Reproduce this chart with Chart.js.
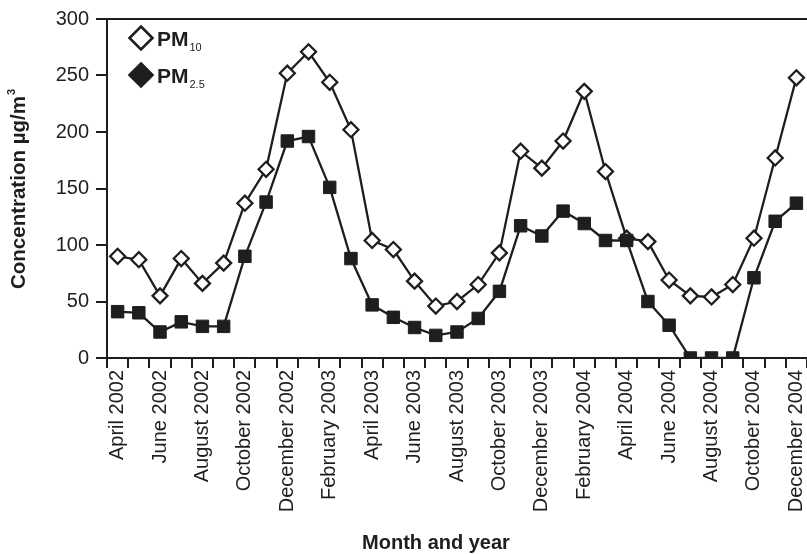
<!DOCTYPE html>
<html>
<head>
<meta charset="utf-8">
<script src="https://cdn.jsdelivr.net/npm/chart.js@4/dist/chart.umd.min.js"></script>
<style>
  html, body { margin: 0; padding: 0; background: #fff; }
  #wrap { width: 807px; height: 554px; }
</style>
</head>
<body>
<div id="wrap"><canvas id="chart"></canvas></div>
<script>
// Monthly mean concentrations, April 2002 - December 2004
const months = [
    'April 2002', 'May 2002', 'June 2002', 'July 2002', 'August 2002', 'September 2002',
    'October 2002', 'November 2002', 'December 2002', 'January 2003', 'February 2003', 'March 2003',
    'April 2003', 'May 2003', 'June 2003', 'July 2003', 'August 2003', 'September 2003',
    'October 2003', 'November 2003', 'December 2003', 'January 2004', 'February 2004', 'March 2004',
    'April 2004', 'May 2004', 'June 2004', 'July 2004', 'August 2004', 'September 2004',
    'October 2004', 'November 2004', 'December 2004'
];
const pm10 = [90, 87, 55, 88, 66, 84, 137, 167, 252, 271, 244, 202, 104, 96, 68, 46, 50,
    65, 93, 183, 168, 192, 236, 165, 106, 103, 69, 55, 54, 65, 106, 177, 248];
const pm25 = [41, 40, 23, 32, 28, 28, 90, 138, 192, 196, 151, 88, 47, 36, 27, 20, 23,
    35, 59, 117, 108, 130, 119, 104, 104, 50, 29, 0, 0, 0, 71, 121, 137];
const yTicks = [0, 50, 100, 150, 200, 250, 300];

const INK = '#1e1e1e';
const FONT = '"Liberation Sans", Arial, sans-serif';
Chart.defaults.font.family = FONT;
Chart.defaults.color = INK;

// top frame line, legend with subscripts, axis titles
const decorations = {
    id: 'decorations',
    afterDraw(chart) {
        const { ctx, chartArea: a } = chart;
        ctx.save();

        ctx.strokeStyle = INK;
        ctx.lineWidth = 2;
        ctx.beginPath();
        ctx.moveTo(a.left, a.top);
        ctx.lineTo(a.right, a.top);
        ctx.stroke();

        // legend
        const lx = a.left + 34;
        const diamond = (cx, cy, r, filled) => {
            ctx.beginPath();
            ctx.moveTo(cx, cy - r);
            ctx.lineTo(cx + r, cy);
            ctx.lineTo(cx, cy + r);
            ctx.lineTo(cx - r, cy);
            ctx.closePath();
            ctx.fillStyle = filled ? INK : '#fff';
            ctx.fill();
            ctx.lineWidth = 2.6;
            ctx.strokeStyle = INK;
            ctx.stroke();
        };
        const entry = (cy, sub, filled) => {
            diamond(lx, cy, 11.5, filled);
            ctx.fillStyle = INK;
            ctx.textAlign = 'left';
            ctx.textBaseline = 'alphabetic';
            ctx.font = 'bold 21px ' + FONT;
            ctx.fillText('PM', lx + 16, cy + 7.5);
            const w = ctx.measureText('PM').width;
            ctx.font = '11px ' + FONT;
            ctx.fillText(sub, lx + 17 + w, cy + 12.5);
        };
        entry(a.top + 19, '10', false);
        entry(a.top + 56, '2.5', true);

        // x axis title
        ctx.fillStyle = INK;
        ctx.font = 'bold 20px ' + FONT;
        ctx.textAlign = 'center';
        ctx.fillText('Month and year', a.left + (a.right - a.left) * 0.47, 549);

        // y axis title, rotated, with superscript
        ctx.translate(25, (a.top + a.bottom) / 2 + 1);
        ctx.rotate(-Math.PI / 2);
        ctx.textAlign = 'left';
        ctx.font = 'bold 20.5px ' + FONT;
        const main = 'Concentration µg/m';
        const mw = ctx.measureText(main).width;
        ctx.font = 'bold 11px ' + FONT;
        const sw = ctx.measureText('3').width;
        const x0 = -(mw + sw) / 2;
        ctx.font = 'bold 20.5px ' + FONT;
        ctx.fillText(main, x0, 0);
        ctx.font = 'bold 11px ' + FONT;
        ctx.fillText('3', x0 + mw + 1, -10);

        ctx.restore();
    }
};

new Chart(document.getElementById('chart'), {
    type: 'line',
    data: {
        labels: months,
        datasets: [
            {
                label: 'PM10',
                data: pm10,
                order: 1,
                borderColor: INK,
                borderWidth: 2.3,
                pointStyle: 'rectRot',
                pointRadius: 7.5,
                pointBackgroundColor: '#fff',
                pointBorderColor: INK,
                pointBorderWidth: 2.3,
                tension: 0
            },
            {
                label: 'PM2.5',
                data: pm25,
                order: 0,
                borderColor: INK,
                borderWidth: 2.3,
                pointStyle: 'rect',
                pointRadius: 8.8,
                pointBackgroundColor: INK,
                pointBorderColor: INK,
                pointBorderWidth: 1,
                tension: 0
            }
        ]
    },
    options: {
        responsive: true,
        maintainAspectRatio: false,
        animation: false,
        layout: {
            autoPadding: false,
            padding: { top: 17, right: 0, bottom: 0, left: 0 }
        },
        plugins: {
            legend: { display: false },
            tooltip: { enabled: false }
        },
        scales: {
            x: {
                type: 'category',
                offset: true,
                grid: {
                    offset: true,
                    drawOnChartArea: false,
                    drawTicks: true,
                    tickLength: 10,
                    color: INK,
                    lineWidth: 2
                },
                border: { color: INK, width: 2 },
                ticks: {
                    autoSkip: false,
                    minRotation: 90,
                    maxRotation: 90,
                    padding: 2,
                    color: INK,
                    font: { size: 20 },
                    callback: (v, i) => (i % 2 === 0 ? months[i] : '')
                },
                afterFit: scale => {
                    scale.height = 196;
                    // let the plot run to the right edge
                    scale.paddingLeft = 0;
                    scale.paddingRight = 0;
                }
            },
            y: {
                min: 0,
                max: 300,
                afterBuildTicks: scale => { scale.ticks = yTicks.map(v => ({ value: v })); },
                grid: {
                    drawOnChartArea: false,
                    drawTicks: true,
                    tickLength: 11,
                    color: INK,
                    lineWidth: 2
                },
                border: { color: INK, width: 2 },
                ticks: {
                    padding: 7,
                    color: INK,
                    font: { size: 20 }
                },
                afterFit: scale => { scale.width = 107; }
            }
        }
    },
    plugins: [decorations]
});
</script>
</body>
</html>
